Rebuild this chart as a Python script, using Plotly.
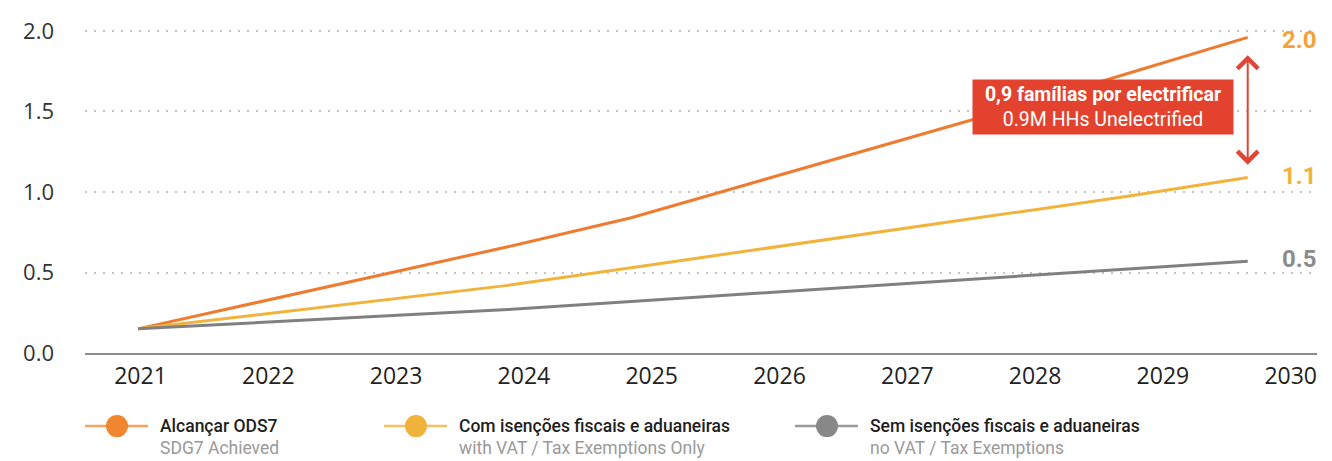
import plotly.graph_objects as go

# data (millions of households)
years = [2021, 2022, 2023, 2024, 2025, 2026, 2027, 2028, 2029, 2030]
sdg7_achieved = [0.15, 0.32, 0.49, 0.66, 0.84, 1.06, 1.28, 1.50, 1.73, 1.96]
vat_exempt = [0.15, 0.24, 0.33, 0.42, 0.53, 0.64, 0.75, 0.86, 0.97, 1.09]
no_vat = [0.15, 0.19, 0.23, 0.27, 0.32, 0.37, 0.42, 0.47, 0.52, 0.57]

series_values = [sdg7_achieved, vat_exempt, no_vat]
end_labels = ['2.0', '1.1', '0.5']
legend_titles = ['Alcançar ODS7', 'Com isenções fiscais e aduaneiras', 'Sem isenções fiscais e aduaneiras']
legend_subtitles = ['SDG7 Achieved', 'with VAT / Tax Exemptions Only', 'no VAT / Tax Exemptions']
gap_title = '0,9 famílias por electrificar'
gap_subtitle = '0.9M HHs Unelectrified'

LINE_COLORS = ['#EE7B2F', '#F0B33B', '#808080']
LABEL_COLORS = ['#F4A23A', '#F2B33D', '#8C8C8C']
LEGEND_LINE_COLORS = ['#F5A35E', '#F4C163', '#9A9A9A']
LEGEND_DOT_COLORS = ['#F0862F', '#EFB23A', '#888888']
RED = '#E3432E'

FONT = 'Roboto'
TICK_FONT = 'Open Sans'

# the page body adds an 8px margin on the top/left
FIG_W, FIG_H = 1316, 453
plot_left, plot_w = 77, 1232
plot_top, plot_h = 17, 328
plot_bottom = plot_top + plot_h
Y_MAX = 2.0123  # a hair above 2.0 so the top gridline shows

fig = go.Figure()

for vals, name, color in zip(series_values, legend_subtitles, LINE_COLORS):
    fig.add_trace(
        go.Scatter(
            x=years,
            y=vals,
            mode='lines',
            name=name,
            line=dict(color=color, width=3),
        )
    )

annotations = []

# value labels at the end of each line
for vals, text, color in zip(series_values, end_labels, LABEL_COLORS):
    annotations.append(dict(
        x=years[-1], y=vals[-1], xref='x', yref='y',
        text=text, showarrow=False,
        xanchor='left', yanchor='middle', xshift=32,
        yshift=-3 if vals[-1] > 1.9 else 2,
        font=dict(family=FONT, size=24, color=color, weight='bold'),
    ))

# double arrow showing the gap between the two top scenarios
annotations.append(dict(
    x=years[-1], y=sdg7_achieved[-1] - 0.11,
    ax=years[-1], ay=vat_exempt[-1] + 0.07,
    xref='x', yref='y', axref='x', ayref='y',
    text='', showarrow=True,
    arrowhead=4, startarrowhead=4, arrowside='end+start',
    arrowsize=2, startarrowsize=2, arrowwidth=2, arrowcolor='#E04535',
    standoff=0, startstandoff=0,
))

# red callout box
annotations.append(dict(
    x=2028.83, y=1.525, xref='x', yref='y',
    text=f'<b>{gap_title}</b><br>{gap_subtitle}',
    showarrow=False, align='center',
    xanchor='center', yanchor='middle',
    bgcolor=RED, borderpad=3, width=254,
    font=dict(family=FONT, size=19.5, color='#FFFFFF'),
))

# custom legend under the plot (window x of each legend line start)
shapes = []
legend_x = [85, 384, 795]
leg_y = (plot_bottom - (427 - 8)) / plot_h
sub_y = (plot_bottom - (449 - 8)) / plot_h

for i, wx in enumerate(legend_x):
    px = wx - 8
    x0 = (px - plot_left) / plot_w
    x1 = (px + 63 - plot_left) / plot_w
    xc = (px + 32 - plot_left) / plot_w
    xt = (px + 73 - plot_left) / plot_w
    shapes.append(dict(
        type='line', xref='paper', yref='paper',
        x0=x0, x1=x1, y0=leg_y, y1=leg_y,
        line=dict(color=LEGEND_LINE_COLORS[i], width=2.5),
    ))
    shapes.append(dict(
        type='circle', xref='paper', yref='paper',
        xsizemode='pixel', ysizemode='pixel',
        xanchor=xc, yanchor=leg_y,
        x0=-11, x1=11, y0=-11, y1=11,
        fillcolor=LEGEND_DOT_COLORS[i], line=dict(width=0),
    ))
    annotations.append(dict(
        x=xt, y=leg_y, xref='paper', yref='paper',
        text=legend_titles[i], showarrow=False,
        xanchor='left', yanchor='middle',
        font=dict(family=FONT, size=17.5, color='#1E1E1E', weight=500),
    ))
    annotations.append(dict(
        x=xt, y=sub_y, xref='paper', yref='paper',
        text=legend_subtitles[i], showarrow=False,
        xanchor='left', yanchor='middle',
        font=dict(family=FONT, size=17.5, color='#9A9A9A'),
    ))

# tick labels in the source sit a little wider apart than the plotted years
tick_pos = [2021.02 + i * 1.0365 for i in range(len(years))]

fig.update_layout(
    width=FIG_W,
    height=FIG_H,
    margin=dict(l=plot_left, r=FIG_W - plot_left - plot_w, t=plot_top, b=FIG_H - plot_bottom),
    plot_bgcolor='#FFFFFF',
    paper_bgcolor='#FFFFFF',
    showlegend=False,
    xaxis=dict(
        range=[2020.57, 2030.562],
        tickvals=tick_pos,
        ticktext=[str(y) for y in years],
        showgrid=False,
        zeroline=False,
        showline=True,
        linecolor='#8C8C8C',
        linewidth=2,
        ticks='',
        ticklabelstandoff=1,
        tickfont=dict(family=TICK_FONT, size=23, color='#222222'),
    ),
    yaxis=dict(
        range=[0, Y_MAX],
        tickvals=[0, 0.5, 1.0, 1.5, 2.0],
        tickformat='.1f',
        showgrid=True,
        gridcolor='#C4C4C4',
        griddash='2px,7px',
        gridwidth=1.5,
        zeroline=False,
        showline=False,
        ticks='',
        ticklabelstandoff=30,
        tickfont=dict(family=TICK_FONT, size=22, color='#333333'),
    ),
    annotations=annotations,
    shapes=shapes,
)

fig.write_html('out.html')
